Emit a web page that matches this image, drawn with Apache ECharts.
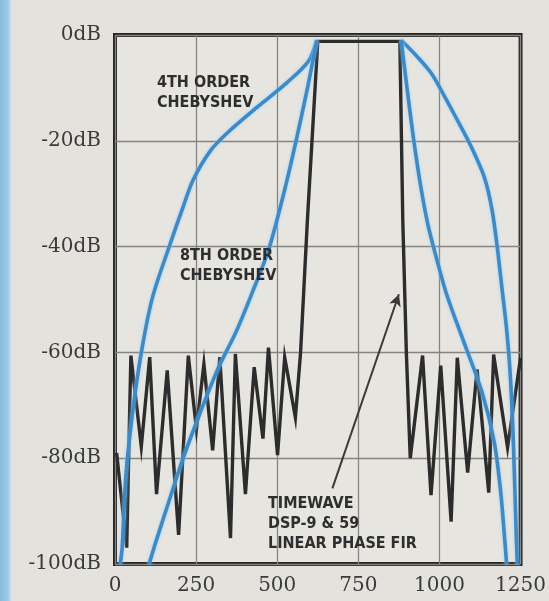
<!DOCTYPE html>
<html>
<head>
<meta charset="utf-8">
<script src="https://cdn.jsdelivr.net/npm/echarts/dist/echarts.min.js"></script>
<style>
  html, body { margin: 0; padding: 0; background: #e4e2dd; }
  #chart { width: 549px; height: 601px; }
</style>
</head>
<body>
<div id="chart"></div>
<script>
// Frequency axis ticks (Hz) and level ticks (dB)
const freqTicks = [0, 250, 500, 750, 1000, 1250];
const levelTicks = [0, -20, -40, -60, -80, -100];

// Linear-phase FIR response: stopband ripple, passband, stopband ripple
const firFreq = [5, 36, 49, 81, 107, 128, 161, 196, 226, 251, 274, 301, 323, 356, 371, 402, 429, 456, 473, 501, 523, 556,
                 572, 593, 625, 878, 887, 898, 910,
                 948, 974, 1004, 1036, 1055, 1087, 1116, 1152, 1167, 1210, 1250];
const firDb   = [-79, -96.9, -60.6, -77.8, -60.9, -86.8, -63.4, -94.5, -60.6, -74.5, -62.2, -78.5, -60.9, -95.1, -60.3, -86.8, -62.8, -76.3, -59.1, -79.4, -60.9, -72.3,
                 -60, -35, -1.2, -1.2, -35, -60, -80,
                 -60.6, -87, -62.5, -92, -61, -82.7, -63.2, -86.5, -60.4, -78, -61];

// 4th order Chebyshev, lower and upper skirts
const cheb4LowFreq = [16, 22, 34, 57, 84, 116, 170, 210, 240, 295, 357, 439, 530, 597, 622];
const cheb4LowDb   = [-100, -97, -83, -70, -59, -49.5, -39.5, -32.5, -27.5, -21.8, -17.9, -13.6, -9, -4.9, -1];
const cheb4HighFreq = [882, 930, 978, 1019, 1050, 1097, 1139, 1162, 1178, 1192, 1206, 1217, 1225, 1231, 1237, 1240];
const cheb4HighDb   = [-1, -4, -7.5, -12, -15.5, -21, -27, -33, -40, -47.5, -55, -63, -72.5, -83, -95, -100];

// 8th order Chebyshev, lower and upper skirts
const cheb8LowFreq = [105, 125, 167, 210, 262, 318, 374, 421, 474, 522, 560, 595, 622];
const cheb8LowDb   = [-100, -96, -88, -80, -71.5, -63, -56, -49, -40.5, -29.5, -19.5, -9.5, -1];
const cheb8HighFreq = [882, 900, 920, 942, 965, 990, 1022, 1072, 1131, 1169, 1189, 1202, 1207];
const cheb8HighDb   = [-1, -10, -19.5, -28.5, -36, -42, -49, -57.5, -67.5, -77, -86.5, -96, -100];

// Pointer from the FIR caption to its skirt
const pointerFrom = [670, -85.7];
const pointerTo = [875, -49];

const zip = (xs, ys) => xs.map((x, i) => [x, ys[i]]);

const blue = '#3a8bcb';
const blueLine = {
  color: blue, width: 3.6,
  shadowColor: 'rgba(150,205,240,0.9)', shadowBlur: 3
};
const captionFont = 'bold 16px "DejaVu Sans Condensed", "Liberation Sans Narrow", "DejaVu Sans", sans-serif';
const tickFont = '"DejaVu Serif", "Liberation Serif", serif';

function skirt(name, xs, ys) {
  return {
    name, type: 'line', data: zip(xs, ys),
    smooth: 0.3,
    showSymbol: false, z: 4, lineStyle: blueLine
  };
}

const chart = echarts.init(document.getElementById('chart'), null, { renderer: 'canvas' });

chart.setOption({
  backgroundColor: '#e4e2dd',
  animation: false,
  grid: {
    left: 115, right: 23, top: 35, bottom: 37,
    show: true, borderColor: '#262626', borderWidth: 4,
    backgroundColor: '#e7e5e0'
  },
  xAxis: {
    type: 'value',
    min: freqTicks[0], max: freqTicks[freqTicks.length - 1], interval: 250,
    axisLine: { show: false }, axisTick: { show: false },
    splitLine: { show: true, lineStyle: { color: '#868480', width: 1.3 } },
    axisLabel: {
      margin: 12, color: '#3a3a3a', fontSize: 20, fontFamily: tickFont,
      showMaxLabel: true, showMinLabel: true,
      formatter: v => String(v)
    }
  },
  yAxis: {
    type: 'value',
    min: levelTicks[levelTicks.length - 1], max: levelTicks[0], interval: 20,
    axisLine: { show: false }, axisTick: { show: false },
    splitLine: { show: true, lineStyle: { color: '#868480', width: 1.3 } },
    axisLabel: {
      margin: 14, color: '#3a3a3a', fontSize: 20, fontFamily: tickFont,
      formatter: v => v + 'dB'
    }
  },
  series: [
    {
      name: 'FIR', type: 'line', data: zip(firFreq, firDb),
      showSymbol: false, z: 3,
      lineStyle: { color: '#2c2c2c', width: 3.4, join: 'miter' },
      markLine: {
        silent: true, symbol: ['none', 'arrow'], symbolSize: [9, 12],
        label: { show: false },
        lineStyle: { color: '#3a3a3a', width: 2, type: 'solid' },
        data: [[{ coord: pointerFrom }, { coord: pointerTo }]]
      }
    },
    skirt('Cheb4 low', cheb4LowFreq, cheb4LowDb),
    skirt('Cheb4 high', cheb4HighFreq, cheb4HighDb),
    skirt('Cheb8 low', cheb8LowFreq, cheb8LowDb),
    skirt('Cheb8 high', cheb8HighFreq, cheb8HighDb)
  ],
  graphic: [
    {
      type: 'rect', left: 0, top: 0, z: -1, silent: true,
      shape: { width: 11, height: 601 },
      style: {
        fill: new echarts.graphic.LinearGradient(0, 0, 1, 0, [
          { offset: 0, color: '#86bddc' },
          { offset: 0.7, color: '#9ccbe4' },
          { offset: 1, color: '#c9dde6' }
        ])
      }
    },
    {
      type: 'text', left: 157, top: 73, z: 10, silent: true,
      style: { text: '4TH ORDER\nCHEBYSHEV', font: captionFont, fill: '#2e2e2e', lineHeight: 20 }
    },
    {
      type: 'text', left: 180, top: 246, z: 10, silent: true,
      style: { text: '8TH ORDER\nCHEBYSHEV', font: captionFont, fill: '#2e2e2e', lineHeight: 20 }
    },
    {
      type: 'text', left: 268, top: 494, z: 10, silent: true,
      style: { text: 'TIMEWAVE\nDSP-9 & 59\nLINEAR PHASE FIR', font: captionFont, fill: '#2e2e2e', lineHeight: 20 }
    }
  ]
});
</script>
</body>
</html>
